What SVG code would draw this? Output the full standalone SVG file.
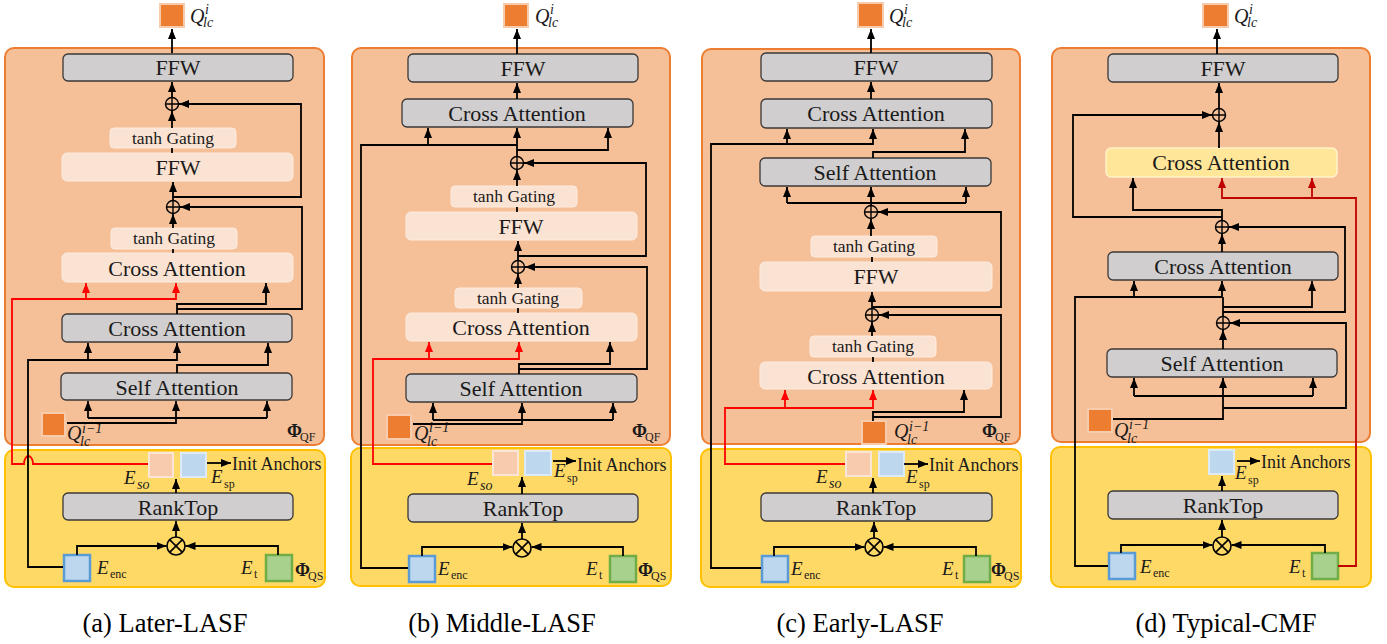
<svg xmlns="http://www.w3.org/2000/svg" xmlns:xlink="http://www.w3.org/1999/xlink" width="1387" height="644" viewBox="0 0 1387 644">
<style>
.qf{fill:#F5BF97;stroke:#ED7D31;stroke-width:2}
.qs{fill:#FFD966;stroke:#FFC000;stroke-width:2}
.g{fill:#D0CECE;stroke:#3A3838;stroke-width:1.3}
.lt{fill:#FBE3D3;stroke:#FCEBDF;stroke-width:1}
.yl{fill:#FFE699;stroke:#FFF2CC;stroke-width:1.5}
.qo{fill:#ED7D31;stroke:#F8CBAD;stroke-width:2}
.eso{fill:#F8CBAD;stroke:#FBE5D6;stroke-width:2}
.esp{fill:#BDD7EE;stroke:#DEEBF7;stroke-width:2}
.enc{fill:#BDD7EE;stroke:#5B9BD5;stroke-width:2.5}
.et{fill:#A9D18E;stroke:#70AD47;stroke-width:2.5}
text{font-family:"Liberation Serif","Times New Roman",serif;fill:#1a1a1a}
.t{font-size:22px;text-anchor:middle}
.ts{font-size:17.5px;text-anchor:middle}
.cap{font-size:26.5px;text-anchor:middle;fill:#000}
.ia{font-size:18px}
.m{font-style:italic;font-size:19px}
.q{font-style:italic;font-size:20px}
.ms{font-style:italic;font-size:14px}
.sb{font-size:12px;font-style:normal;font-weight:normal}
.phi{font-weight:bold;font-size:18px}
.ln{fill:none;stroke:#000;stroke-width:1.8}
.a{marker-end:url(#ah)}
.rd{fill:none;stroke:#FF0000;stroke-width:1.8;marker-end:url(#ar)}
.dr{fill:none;stroke:#C00000;stroke-width:1.8;marker-end:url(#ad)}
.op{fill:none;stroke:#000;stroke-width:1.4}
</style>
<defs>
<marker id="ah" markerWidth="10" markerHeight="8" refX="10" refY="4" orient="auto" markerUnits="userSpaceOnUse"><path d="M0,0 L10,4 L0,8 z" fill="#000"/></marker>
<marker id="ar" markerWidth="10" markerHeight="8" refX="10" refY="4" orient="auto" markerUnits="userSpaceOnUse"><path d="M0,0 L10,4 L0,8 z" fill="#FF0000"/></marker>
<marker id="ad" markerWidth="10" markerHeight="8" refX="10" refY="4" orient="auto" markerUnits="userSpaceOnUse"><path d="M0,0 L10,4 L0,8 z" fill="#C00000"/></marker>
<g id="plus"><circle r="6.5" class="op"/><path d="M-6.5,0H6.5M0,-6.5V6.5" class="op"/></g>
<g id="times"><circle r="9" class="op" style="stroke-width:1.6"/><path d="M-6.4,-6.4L6.4,6.4M-6.4,6.4L6.4,-6.4" class="op" style="stroke-width:1.6"/></g>
</defs>

<!-- ================= Panel A ================= -->
<g id="a-qf"><rect class="qf" x="5" y="48" width="319" height="397" rx="9"/>
<text x="287" y="437" class="phi">Φ<tspan class="sb" x="300" y="441">QF</tspan></text></g>
<g id="a-qs"><rect class="qs" x="5" y="450" width="320" height="137" rx="9"/>
<text x="295" y="576" class="phi">Φ<tspan class="sb" x="308" y="580">QS</tspan></text></g>
<g id="a-qout"><rect class="qo" x="160" y="4" width="24" height="23"/>
<text class="q" x="190" y="23">Q<tspan class="ms" x="205" y="14">i</tspan><tspan class="ms" x="203" y="27">lc</tspan></text></g>
<g id="a-ffw"><rect class="g" x="63" y="54" width="230" height="27" rx="5"/><text class="t" x="178" y="75">FFW</text></g>
<g id="a-tanh1"><rect class="lt" x="110" y="128" width="126" height="20" rx="4"/><text class="ts" x="173" y="144">tanh Gating</text></g>
<g id="a-ffwl"><rect class="lt" x="62" y="153" width="231" height="28" rx="5"/><text class="t" x="178" y="175">FFW</text></g>
<g id="a-tanh2"><rect class="lt" x="111" y="228" width="126" height="21" rx="4"/><text class="ts" x="174" y="244">tanh Gating</text></g>
<g id="a-cal"><rect class="lt" x="62" y="253" width="231" height="29" rx="5"/><text class="t" x="177" y="276">Cross Attention</text></g>
<g id="a-ca"><rect class="g" x="62" y="314" width="230" height="28" rx="5"/><text class="t" x="177" y="336">Cross Attention</text></g>
<g id="a-sa"><rect class="g" x="61" y="373" width="231" height="27" rx="5"/><text class="t" x="177" y="395">Self Attention</text></g>
<g id="a-qin"><rect class="qo" x="42" y="413" width="23" height="23"/>
<text class="q" x="67" y="440">Q<tspan class="ms" x="82" y="433">i−1</tspan><tspan class="ms" x="80" y="446">lc</tspan></text></g>
<g id="a-eso"><rect class="eso" x="149" y="453" width="24" height="24"/>
<text class="m" x="124" y="484">E<tspan class="ms" x="137" y="489">so</tspan></text></g>
<g id="a-esp"><rect class="esp" x="181" y="453" width="25" height="24"/>
<text class="m" x="211" y="483">E<tspan class="sb" x="224" y="488">sp</tspan></text></g>
<g id="a-init"><text class="ia" x="232" y="470">Init Anchors</text></g>
<g id="a-rank"><rect class="g" x="63" y="493" width="230" height="27" rx="5"/><text class="t" x="178" y="515">RankTop</text></g>
<g id="a-enc"><rect class="enc" x="64" y="555" width="26" height="26"/>
<text class="m" x="97" y="574">E<tspan class="sb" x="110" y="578">enc</tspan></text></g>
<g id="a-et"><rect class="et" x="266" y="555" width="26" height="26"/>
<text class="m" x="241" y="574">E<tspan class="sb" x="254" y="578">t</tspan></text></g>
<g id="a-plus1"><use xlink:href="#plus" x="172" y="104"/></g>
<g id="a-plus2"><use xlink:href="#plus" x="173" y="207"/></g>
<g id="a-mul"><use xlink:href="#times" x="176" y="546"/></g>
<text class="cap" x="165" y="632">(a) Later-LASF</text>

<g id="a-conn">
<path class="ln a" d="M172,53V29"/>
<path class="ln a" d="M172,97.5V82"/>
<path class="ln a" d="M172,128V111"/>
<path class="ln" d="M172,148V153"/>
<path class="ln a" d="M173,197H301V104H179"/>
<path class="ln a" d="M173,200.5V182"/>
<path class="ln a" d="M173,228V214"/>
<path class="ln" d="M173,249V253"/>
<path class="ln a" d="M177,314V304H266V283"/>
<path class="ln a" d="M177,309H302V207H180"/>
<path class="rd" d="M148,464H33A4.5,8 0 0 0 24,464H12V299H176V283"/>
<path class="rd" d="M86,299V283"/>
<path class="ln a" d="M63,567H28V360H177V343"/>
<path class="ln a" d="M88,360V343"/>
<path class="ln a" d="M177,373V365H268V343"/>
<path class="ln a" d="M67,423H176V401"/>
<path class="ln" d="M88,418H267"/>
<path class="ln a" d="M88,418V401"/>
<path class="ln a" d="M267,418V401"/>
<path class="ln a" d="M176,493V479"/>
<path class="ln a" d="M207,463H231"/>
<path class="ln a" d="M176,537V521"/>
<path class="ln a" d="M77,555V546H166.5"/>
<path class="ln a" d="M278,555V546H185.5"/>
</g>

<!-- ================= Panel B ================= -->
<g id="b-qf"><rect class="qf" x="352" y="48" width="318" height="397" rx="9"/>
<text x="632" y="437" class="phi">Φ<tspan class="sb" x="645" y="441">QF</tspan></text></g>
<g id="b-qs"><rect class="qs" x="351" y="448" width="320" height="138" rx="9"/>
<text x="638" y="576" class="phi">Φ<tspan class="sb" x="651" y="580">QS</tspan></text></g>
<g id="b-qout"><rect class="qo" x="504" y="4" width="24" height="23"/>
<text class="q" x="535" y="23">Q<tspan class="ms" x="550" y="14">i</tspan><tspan class="ms" x="548" y="27">lc</tspan></text></g>
<g id="b-ffw"><rect class="g" x="408" y="54" width="230" height="28" rx="5"/><text class="t" x="523" y="76">FFW</text></g>
<g id="b-ca"><rect class="g" x="402" y="99" width="231" height="28" rx="5"/><text class="t" x="517" y="121">Cross Attention</text></g>
<g id="b-tanh1"><rect class="lt" x="451" y="186" width="126" height="21" rx="4"/><text class="ts" x="514" y="202">tanh Gating</text></g>
<g id="b-ffwl"><rect class="lt" x="406" y="212" width="231" height="28" rx="5"/><text class="t" x="521" y="234">FFW</text></g>
<g id="b-tanh2"><rect class="lt" x="455" y="288" width="127" height="20" rx="4"/><text class="ts" x="518" y="304">tanh Gating</text></g>
<g id="b-cal"><rect class="lt" x="406" y="313" width="231" height="28" rx="5"/><text class="t" x="521" y="335">Cross Attention</text></g>
<g id="b-sa"><rect class="g" x="406" y="374" width="231" height="28" rx="5"/><text class="t" x="521" y="396">Self Attention</text></g>
<g id="b-qin"><rect class="qo" x="387" y="415" width="24" height="24"/>
<text class="q" x="414" y="440">Q<tspan class="ms" x="429" y="432">i−1</tspan><tspan class="ms" x="427" y="446">lc</tspan></text></g>
<g id="b-eso"><rect class="eso" x="493" y="451" width="25" height="24"/>
<text class="m" x="467" y="485">E<tspan class="ms" x="480" y="490">so</tspan></text></g>
<g id="b-esp"><rect class="esp" x="525" y="451" width="26" height="24"/>
<text class="m" x="554" y="477">E<tspan class="sb" x="567" y="482">sp</tspan></text></g>
<g id="b-init"><text class="ia" x="577" y="471">Init Anchors</text></g>
<g id="b-rank"><rect class="g" x="408" y="494" width="230" height="28" rx="5"/><text class="t" x="523" y="516">RankTop</text></g>
<g id="b-enc"><rect class="enc" x="409" y="556" width="26" height="26"/>
<text class="m" x="438" y="575">E<tspan class="sb" x="451" y="579">enc</tspan></text></g>
<g id="b-et"><rect class="et" x="610" y="556" width="26" height="26"/>
<text class="m" x="586" y="575">E<tspan class="sb" x="599" y="579">t</tspan></text></g>
<g id="b-plus1"><use xlink:href="#plus" x="517" y="163"/></g>
<g id="b-plus2"><use xlink:href="#plus" x="518" y="267"/></g>
<g id="b-mul"><use xlink:href="#times" x="522" y="548"/></g>
<text class="cap" x="502" y="632">(b) Middle-LASF</text>

<g id="b-conn">
<path class="ln a" d="M517,54V29"/>
<path class="ln a" d="M517,99V83"/>
<path class="ln a" d="M408,568H361V145H517V128"/>
<path class="ln a" d="M428,145V128"/>
<path class="ln" d="M517,156.5V145"/>
<path class="ln a" d="M517,150H608V128"/>
<path class="ln a" d="M518,256H646V163H524"/>
<path class="ln a" d="M517,186V170"/>
<path class="ln" d="M517,207V212"/>
<path class="ln a" d="M518,260.5V241"/>
<path class="ln a" d="M519,369H647V267H525"/>
<path class="ln a" d="M518,288V274"/>
<path class="ln" d="M518,308V313"/>
<path class="rd" d="M492,464H373V359H519V342"/>
<path class="rd" d="M429,359V342"/>
<path class="ln a" d="M519,374V364H610V342"/>
<path class="ln a" d="M413,424H522V403"/>
<path class="ln" d="M433,420H613"/>
<path class="ln a" d="M433,420V403"/>
<path class="ln a" d="M613,420V403"/>
<path class="ln a" d="M522,494V477"/>
<path class="ln a" d="M553,461H576"/>
<path class="ln a" d="M522,539V523"/>
<path class="ln a" d="M422,556V547H512.5"/>
<path class="ln a" d="M623,556V547H531.5"/>
</g>

<!-- ================= Panel C ================= -->
<g id="c-qf"><rect class="qf" x="702" y="49" width="318" height="395" rx="9"/>
<text x="982" y="437" class="phi">Φ<tspan class="sb" x="995" y="441">QF</tspan></text></g>
<g id="c-qs"><rect class="qs" x="701" y="449" width="320" height="138" rx="9"/>
<text x="991" y="576" class="phi">Φ<tspan class="sb" x="1004" y="580">QS</tspan></text></g>
<g id="c-qout"><rect class="qo" x="858" y="3" width="25" height="24"/>
<text class="q" x="889" y="23">Q<tspan class="ms" x="904" y="14">i</tspan><tspan class="ms" x="902" y="27">lc</tspan></text></g>
<g id="c-ffw"><rect class="g" x="761" y="53" width="231" height="28" rx="5"/><text class="t" x="876" y="75">FFW</text></g>
<g id="c-ca"><rect class="g" x="761" y="99" width="231" height="29" rx="5"/><text class="t" x="876" y="121">Cross Attention</text></g>
<g id="c-sa"><rect class="g" x="760" y="158" width="231" height="28" rx="5"/><text class="t" x="875" y="180">Self Attention</text></g>
<g id="c-tanh1"><rect class="lt" x="811" y="236" width="126" height="21" rx="4"/><text class="ts" x="874" y="252">tanh Gating</text></g>
<g id="c-ffwl"><rect class="lt" x="760" y="262" width="232" height="29" rx="5"/><text class="t" x="876" y="284">FFW</text></g>
<g id="c-tanh2"><rect class="lt" x="810" y="336" width="126" height="21" rx="4"/><text class="ts" x="873" y="352">tanh Gating</text></g>
<g id="c-cal"><rect class="lt" x="760" y="362" width="232" height="27" rx="5"/><text class="t" x="876" y="384">Cross Attention</text></g>
<g id="c-qin"><rect class="qo" x="862" y="421" width="24" height="23"/>
<text class="q" x="894" y="438">Q<tspan class="ms" x="909" y="431">i−1</tspan><tspan class="ms" x="907" y="444">lc</tspan></text></g>
<g id="c-eso"><rect class="eso" x="846" y="452" width="25" height="24"/>
<text class="m" x="816" y="483">E<tspan class="ms" x="829" y="488">so</tspan></text></g>
<g id="c-esp"><rect class="esp" x="879" y="452" width="25" height="24"/>
<text class="m" x="906" y="483">E<tspan class="sb" x="919" y="488">sp</tspan></text></g>
<g id="c-init"><text class="ia" x="929" y="471">Init Anchors</text></g>
<g id="c-rank"><rect class="g" x="761" y="493" width="231" height="28" rx="5"/><text class="t" x="876" y="515">RankTop</text></g>
<g id="c-enc"><rect class="enc" x="762" y="556" width="26" height="26"/>
<text class="m" x="791" y="575">E<tspan class="sb" x="804" y="579">enc</tspan></text></g>
<g id="c-et"><rect class="et" x="964" y="556" width="26" height="26"/>
<text class="m" x="942" y="575">E<tspan class="sb" x="955" y="579">t</tspan></text></g>
<g id="c-plus1"><use xlink:href="#plus" x="871" y="212"/></g>
<g id="c-plus2"><use xlink:href="#plus" x="872" y="315"/></g>
<g id="c-mul"><use xlink:href="#times" x="874" y="547"/></g>
<text class="cap" x="860" y="632">(c) Early-LASF</text>

<g id="c-conn">
<path class="ln a" d="M871,53V29"/>
<path class="ln a" d="M871,99V82"/>
<path class="ln a" d="M761,568H711V144H873V129"/>
<path class="ln a" d="M787,144V129"/>
<path class="ln a" d="M873,158V152H965V129"/>
<path class="ln a" d="M871,205.5V187"/>
<path class="ln" d="M787,203H966"/>
<path class="ln a" d="M787,203V187"/>
<path class="ln a" d="M966,203V187"/>
<path class="ln a" d="M872,307H1001V212H878"/>
<path class="ln a" d="M871,236V219"/>
<path class="ln" d="M872,257V262"/>
<path class="ln a" d="M872,308.5V292"/>
<path class="ln a" d="M873,417H1001V315H879"/>
<path class="ln a" d="M872,336V322"/>
<path class="ln" d="M873,357V362"/>
<path class="rd" d="M845,464H725V408H873V390"/>
<path class="rd" d="M785,408V390"/>
<path class="ln a" d="M873,421V412H964V390"/>
<path class="ln a" d="M873,493V478"/>
<path class="ln a" d="M904,464H928"/>
<path class="ln a" d="M874,538V522"/>
<path class="ln a" d="M774,556V547H864.5"/>
<path class="ln a" d="M976,556V547H883.5"/>
</g>

<!-- ================= Panel D ================= -->
<g id="d-qf"><rect class="qf" x="1052" y="48" width="318" height="394" rx="9"/></g>
<g id="d-qs"><rect class="qs" x="1051" y="447" width="320" height="140" rx="9"/></g>
<g id="d-qout"><rect class="qo" x="1203" y="4" width="25" height="23"/>
<text class="q" x="1234" y="23">Q<tspan class="ms" x="1249" y="14">i</tspan><tspan class="ms" x="1247" y="27">lc</tspan></text></g>
<g id="d-ffw"><rect class="g" x="1108" y="54" width="230" height="28" rx="5"/><text class="t" x="1223" y="76">FFW</text></g>
<g id="d-cay"><rect class="yl" x="1106" y="148" width="231" height="29" rx="5"/><text class="t" x="1221" y="170">Cross Attention</text></g>
<g id="d-ca"><rect class="g" x="1108" y="252" width="230" height="28" rx="5"/><text class="t" x="1223" y="274">Cross Attention</text></g>
<g id="d-sa"><rect class="g" x="1107" y="349" width="230" height="28" rx="5"/><text class="t" x="1222" y="371">Self Attention</text></g>
<g id="d-qin"><rect class="qo" x="1088" y="409" width="24" height="23"/>
<text class="q" x="1114" y="437">Q<tspan class="ms" x="1129" y="429">i−1</tspan><tspan class="ms" x="1127" y="443">lc</tspan></text></g>
<g id="d-esp"><rect class="esp" x="1209" y="450" width="25" height="24"/>
<text class="m" x="1235" y="479">E<tspan class="sb" x="1248" y="484">sp</tspan></text></g>
<g id="d-init"><text class="ia" x="1261" y="468">Init Anchors</text></g>
<g id="d-rank"><rect class="g" x="1108" y="491" width="230" height="28" rx="5"/><text class="t" x="1223" y="513">RankTop</text></g>
<g id="d-enc"><rect class="enc" x="1109" y="553" width="26" height="26"/>
<text class="m" x="1140" y="573">E<tspan class="sb" x="1153" y="577">enc</tspan></text></g>
<g id="d-et"><rect class="et" x="1312" y="553" width="26" height="26"/>
<text class="m" x="1289" y="573">E<tspan class="sb" x="1302" y="577">t</tspan></text></g>
<g id="d-plus1"><use xlink:href="#plus" x="1219" y="115"/></g>
<g id="d-plus2"><use xlink:href="#plus" x="1222" y="227"/></g>
<g id="d-plus3"><use xlink:href="#plus" x="1223" y="323"/></g>
<g id="d-mul"><use xlink:href="#times" x="1222" y="546"/></g>
<text class="cap" x="1226" y="632">(d) Typical-CMF</text>

<g id="d-conn">
<path class="ln a" d="M1217,54V29"/>
<path class="ln a" d="M1219,108.5V83"/>
<path class="ln a" d="M1222,217H1073V115H1212"/>
<path class="ln a" d="M1219,148V122"/>
<path class="ln a" d="M1222,220.5V210H1133V178"/>
<path class="dr" d="M1338,566H1356V198H1222V178"/>
<path class="dr" d="M1312,198V178"/>
<path class="ln a" d="M1223,312H1345V227H1229"/>
<path class="ln a" d="M1222,252V234"/>
<path class="ln a" d="M1108,566H1075V297H1222V281"/>
<path class="ln a" d="M1134,297V281"/>
<path class="ln" d="M1223,316.5V297"/>
<path class="ln a" d="M1223,307H1312V281"/>
<path class="ln a" d="M1223,408H1346V323H1230"/>
<path class="ln a" d="M1223,349V330"/>
<path class="ln a" d="M1113,419H1223V378"/>
<path class="ln" d="M1134,396H1313"/>
<path class="ln a" d="M1134,396V378"/>
<path class="ln a" d="M1313,396V378"/>
<path class="ln a" d="M1222,491V476"/>
<path class="ln a" d="M1237,461H1260"/>
<path class="ln a" d="M1222,537V520"/>
<path class="ln a" d="M1121,553V545H1212.5"/>
<path class="ln a" d="M1325,553V545H1231.5"/>
</g>
</svg>
